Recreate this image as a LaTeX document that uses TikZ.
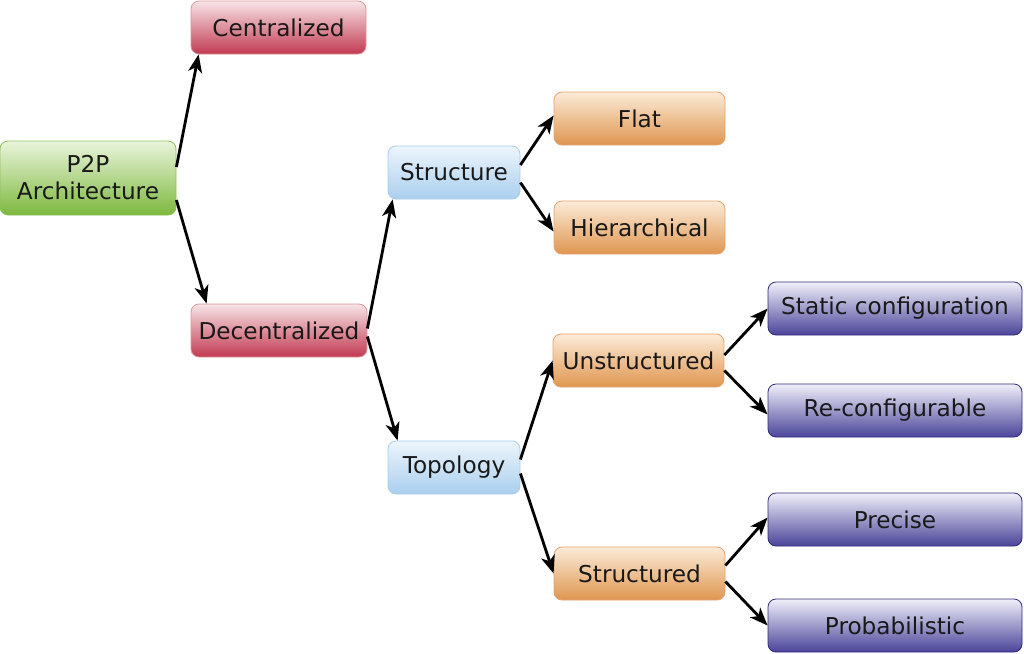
\documentclass[tikz,border=0pt]{standalone}
\usepackage{fontspec}
\setmainfont{DejaVu Sans}
\usetikzlibrary{arrows.meta}

\definecolor{rootline}{HTML}{8DC35A}
\definecolor{roottop}{HTML}{EAF5DC}
\definecolor{rootbot}{HTML}{7DB83E}
\definecolor{redline}{HTML}{D9979C}
\definecolor{redtop}{HTML}{F7E4E6}
\definecolor{redbot}{HTML}{C23A52}
\definecolor{blueline}{HTML}{A9CDEA}
\definecolor{bluetop}{HTML}{EDF5FC}
\definecolor{bluebot}{HTML}{AACFEE}
\definecolor{orangeline}{HTML}{E3A36E}
\definecolor{orangetop}{HTML}{FCEBD8}
\definecolor{orangebot}{HTML}{DF9650}
\definecolor{purpleline}{HTML}{2F2B78}
\definecolor{purpletop}{HTML}{F0F0FA}
\definecolor{purplebot}{HTML}{4A4499}

\begin{document}
\begin{tikzpicture}[x=0.5pt,y=-0.5pt,
  box/.style={rounded corners=4pt,minimum height=26.5pt,inner sep=1pt,align=center,
    font=\fontsize{11.6}{13.5}\selectfont,text=black!90},
  rootbox/.style={box,draw=rootline,top color=roottop,bottom color=rootbot},
  redbox/.style={box,draw=redline,top color=redtop,bottom color=redbot},
  bluebox/.style={box,draw=blueline,top color=bluetop,bottom color=bluebot},
  orangebox/.style={box,draw=orangeline,top color=orangetop,bottom color=orangebot},
  purplebox/.style={box,draw=purpleline,top color=purpletop,bottom color=purplebot}]
  \useasboundingbox (0,0) rectangle (1024,654);

  \node[rootbox,minimum width=88pt,minimum height=37pt] (p2p) at (88,178) {P2P\\Architecture};
  \node[redbox,minimum width=87.5pt] (cent) at (278.5,27.5) {Centralized};
  \node[redbox,minimum width=88pt] (decent) at (279,330.5) {Decentralized};
  \node[bluebox,minimum width=66pt] (struct) at (454,172.5) {Structure};
  \node[bluebox,minimum width=66pt] (topo) at (454,467.5) {Topology};
  \node[orangebox,minimum width=85.5pt] (flat) at (639.5,118.5) {Flat};
  \node[orangebox,minimum width=85.5pt] (hier) at (639.5,227.5) {Hierarchical};
  \node[orangebox,minimum width=85.5pt] (unstr) at (638.5,360.5) {Unstructured};
  \node[orangebox,minimum width=85.5pt] (str) at (639.5,573.5) {Structured};
  \node[purplebox,minimum width=127pt] (static) at (895,308.5) {Static configuration};
  \node[purplebox,minimum width=127pt] (reconf) at (895,410.5) {Re-configurable};
  \node[purplebox,minimum width=127pt] (precise) at (895,519.5) {Precise};
  \node[purplebox,minimum width=127pt] (prob) at (895,625.5) {Probabilistic};

  \path[-{Stealth[length=9pt,width=7pt,inset=2.5pt]},line width=1.4pt]
    ([yshift=5.5pt]p2p.east) edge ([xshift=4pt]cent.south west)
    ([yshift=-11pt]p2p.east) edge ([xshift=8pt]decent.north west)
    ([yshift=1pt]decent.east) edge ([xshift=2.5pt]struct.south west)
    ([yshift=-3pt]decent.east) edge ([xshift=5pt]topo.north west)
    ([yshift=3.75pt]struct.east) edge ([yshift=1.5pt]flat.west)
    ([yshift=-5pt]struct.east) edge ([yshift=-2pt]hier.west)
    ([yshift=4pt]topo.east) edge (unstr.west)
    ([yshift=-3pt]topo.east) edge (str.west)
    ([yshift=2.75pt]unstr.east) edge (static.west)
    ([yshift=-5pt]unstr.east) edge ([yshift=-2pt]reconf.west)
    ([yshift=4pt]str.east) edge ([yshift=1pt]precise.west)
    ([yshift=-4pt]str.east) edge (prob.west);
\end{tikzpicture}
\end{document}
